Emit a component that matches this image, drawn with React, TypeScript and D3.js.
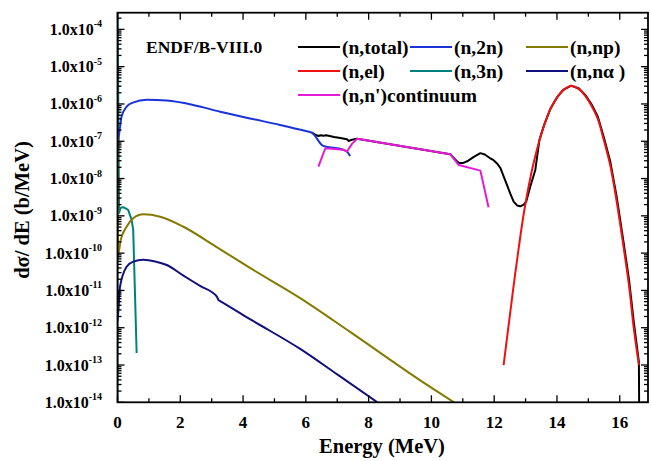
import React from "react";
import * as d3 from "d3";

// Energy grids (MeV) and spectra dσ/dE (b/MeV) for each reaction channel
const totalE = [6.19, 6.3, 6.4, 6.47, 6.56, 6.65, 6.9, 7.1, 7.31, 7.36, 7.42, 7.47, 7.63, 10.6, 10.75, 10.87, 11.0, 11.14, 11.35, 11.56, 11.7, 11.85, 11.98, 12.1, 12.2, 12.36, 12.52, 12.62, 12.73, 12.83, 12.94, 13.02, 13.15, 13.31, 13.44, 13.6, 13.8, 14.0, 14.2, 14.45, 14.7, 14.9, 15.1, 15.3, 15.49, 15.7, 15.9, 16.12, 16.3, 16.44, 16.61, 16.63];
const totalV = [1.71e-7, 1.5e-7, 1.38e-7, 1.45e-7, 1.4e-7, 1.44e-7, 1.3e-7, 1.22e-7, 1.13e-7, 1.02e-7, 1.06e-7, 1.1e-7, 1.16e-7, 4.5e-8, 3.3e-8, 2.6e-8, 2.6e-8, 2.9e-8, 3.8e-8, 4.8e-8, 4.4e-8, 3.6e-8, 3.1e-8, 2.5e-8, 1.9e-8, 8.5e-9, 3.8e-9, 2.4e-9, 1.9e-9, 1.8e-9, 2.0e-9, 2.4e-9, 6.1e-9, 1.7e-8, 1.08e-7, 2.9e-7, 7.7e-7, 1.5e-6, 2.38e-6, 3.1e-6, 2.6e-6, 1.75e-6, 9.8e-7, 4.6e-7, 1.3e-7, 2.8e-8, 3.3e-9, 2.0e-10, 1.8e-11, 1.6e-12, 1.2e-13, 1e-16];

const n2nE = [0.02, 0.08, 0.13, 0.29, 0.49, 0.93, 1.57, 2.41, 3.27, 4.22, 5.18, 6.0, 6.19, 6.55, 7.19, 7.31, 7.41];
const n2nV = [1.0e-7, 2.4e-7, 4.6e-7, 8.5e-7, 1.09e-6, 1.29e-6, 1.23e-6, 9.4e-7, 6.2e-7, 4.1e-7, 2.74e-7, 1.88e-7, 1.71e-7, 7.5e-8, 5.9e-8, 5.3e-8, 4.0e-8];

const npE = [0, 0.02, 0.1, 0.29, 0.5, 0.82, 1.36, 2.1, 3.16, 4.22, 5.82, 7.41, 9.62, 10.72];
const npV = [1.5e-7, 9e-11, 2.2e-10, 5.1e-10, 8.6e-10, 1.1e-9, 9.5e-10, 5.1e-10, 1.45e-10, 4.0e-11, 6.2e-12, 7.7e-13, 4.0e-14, 1.0e-14];

const elE = [12.3, 12.45, 12.6, 12.75, 12.94, 13.1, 13.25, 13.44, 13.6, 13.8, 14.0, 14.2, 14.45, 14.7, 14.9, 15.1, 15.3, 15.49, 15.7, 15.9, 16.12, 16.3, 16.44, 16.61];
const elV = [1.0e-13, 1.0e-12, 1.0e-11, 8.9e-11, 1.12e-9, 6.3e-9, 2.5e-8, 1.05e-7, 2.8e-7, 7.6e-7, 1.48e-6, 2.35e-6, 3.05e-6, 2.5e-6, 1.65e-6, 8.9e-7, 4.0e-7, 1.1e-7, 2.2e-8, 2.5e-9, 1.5e-10, 1.26e-11, 1.07e-12, 1.0e-13];

const n3nE = [0, 0, 0.05, 0.1, 0.185, 0.34, 0.45, 0.5, 0.61];
const n3nV = [1e-16, 1e-3, 1.2e-9, 1.65e-9, 1.7e-9, 1.44e-9, 7.8e-10, 4.2e-10, 2.1e-13];

const naE = [0, 0.03, 0.08, 0.29, 0.5, 0.82, 1.2, 1.57, 2.1, 2.63, 3.16, 3.22, 3.27, 4.22, 5.82, 7.0, 8.28];
const naV = [1.5e-12, 3e-12, 1.26e-11, 4.3e-11, 5.9e-11, 6.6e-11, 6.0e-11, 4.8e-11, 2.5e-11, 1.32e-11, 6.9e-12, 5.5e-12, 5.2e-12, 1.7e-12, 2.7e-13, 5.6e-14, 1.0e-14];

const contE = [6.4, 6.62, 7.2, 7.31, 7.47, 7.63, 10.6, 10.87, 11.56, 11.82];
const contV = [2.1e-8, 6.5e-8, 5.9e-8, 5.3e-8, 8.5e-8, 1.16e-7, 4.5e-8, 2.3e-8, 1.63e-8, 1.7e-9];

const xTicks = [0, 2, 4, 6, 8, 10, 12, 14, 16];
const yExponents = [-14, -13, -12, -11, -10, -9, -8, -7, -6, -5, -4];

const legendRows = [
  [
    { label: "(n,total)", color: "#000000" },
    { label: "(n,2n)", color: "#1a33d9" },
    { label: "(n,np)", color: "#857a00" },
  ],
  [
    { label: "(n,el)", color: "#f01010" },
    { label: "(n,3n)", color: "#008080" },
    { label: "(n,nα )", color: "#101080" },
  ],
  [{ label: "(n,n')continuum", color: "#e619d9" }],
];

const W = 651;
const H = 461;
const plot = { left: 117.5, right: 648, top: 12.7, bottom: 402.3 };
const FONT = "Liberation Serif";

export default function App() {
  const x = d3.scaleLinear().domain([0, 16.9]).range([plot.left, plot.right]);
  const y = d3.scaleLog().domain([1e-14, 2.8e-4]).range([plot.bottom, plot.top]);

  const mk = (curve: d3.CurveFactory) =>
    d3
      .line<[number, number]>()
      .x((d) => x(d[0]))
      .y((d) => y(d[1]))
      .curve(curve);

  const zip = (e: number[], v: number[]) => e.map((ei, i) => [ei, v[i]] as [number, number]);

  const series = [
    { data: zip(n3nE, n3nV), color: "#008080", curve: d3.curveLinear },
    { data: zip(totalE, totalV), color: "#000000", curve: d3.curveLinear },
    { data: zip(n2nE, n2nV), color: "#1a33d9", curve: d3.curveMonotoneX },
    { data: zip(npE, npV), color: "#857a00", curve: d3.curveMonotoneX },
    { data: zip(elE, elV), color: "#f01010", curve: d3.curveCatmullRom },
    { data: zip(naE, naV), color: "#101080", curve: d3.curveMonotoneX },
    { data: zip(contE, contV), color: "#e619d9", curve: d3.curveLinear },
  ];

  // minor ticks
  const xMinor = d3.range(1, 17, 2);
  const yMinor: number[] = [];
  for (let e = -14; e <= -4; e++) {
    for (let m = 2; m <= 9; m++) {
      const v = m * Math.pow(10, e);
      if (v <= 2.8e-4) yMinor.push(v);
    }
  }

  const major = 7;
  const minor = 4;

  const legendX = [298, 410, 526];
  const legendY = [47, 71, 95];

  return (
    <svg
      width={W}
      height={H}
      style={{ position: "absolute", left: 0, top: 0, fontFamily: FONT }}
    >
      <rect x={0} y={0} width={W} height={H} fill="#ffffff" />
      <defs>
        <clipPath id="plotClip">
          <rect x={plot.left} y={plot.top} width={plot.right - plot.left} height={plot.bottom - plot.top} />
        </clipPath>
      </defs>

      <g clipPath="url(#plotClip)" fill="none" strokeWidth={2} strokeLinejoin="round">
        {series.map((s, i) => (
          <path key={i} d={mk(s.curve)(s.data) || ""} stroke={s.color} />
        ))}
      </g>

      {/* ticks */}
      <g stroke="#000" strokeWidth={1.3}>
        {xTicks.map((t) => (
          <g key={"xt" + t}>
            <line x1={x(t)} x2={x(t)} y1={plot.bottom} y2={plot.bottom - major} />
            <line x1={x(t)} x2={x(t)} y1={plot.top} y2={plot.top + major} />
          </g>
        ))}
        {xMinor.map((t) => (
          <g key={"xm" + t}>
            <line x1={x(t)} x2={x(t)} y1={plot.bottom} y2={plot.bottom - minor} />
            <line x1={x(t)} x2={x(t)} y1={plot.top} y2={plot.top + minor} />
          </g>
        ))}
        {yExponents.map((e) => {
          const yy = y(Math.pow(10, e));
          return (
            <g key={"yt" + e}>
              <line x1={plot.left} x2={plot.left + major} y1={yy} y2={yy} />
              <line x1={plot.right} x2={plot.right - major} y1={yy} y2={yy} />
            </g>
          );
        })}
        {yMinor.map((v, i) => (
          <g key={"ym" + i}>
            <line x1={plot.left} x2={plot.left + minor} y1={y(v)} y2={y(v)} />
            <line x1={plot.right} x2={plot.right - minor} y1={y(v)} y2={y(v)} />
          </g>
        ))}
      </g>

      {/* frame */}
      <rect
        x={plot.left}
        y={plot.top}
        width={plot.right - plot.left}
        height={plot.bottom - plot.top}
        fill="none"
        stroke="#000"
        strokeWidth={1.8}
      />

      {/* x tick labels */}
      {xTicks.map((t) => (
        <text key={"xl" + t} x={x(t)} y={428} textAnchor="middle" fontSize={17} fontWeight="bold">
          {t}
        </text>
      ))}

      {/* y tick labels */}
      {yExponents.map((e) => (
        <text key={"yl" + e} x={102} y={y(Math.pow(10, e)) + 5.5} textAnchor="end" fontSize={16} fontWeight="bold">
          1.0x10
          <tspan dy={-7.5} fontSize={10}>
            {String(e)}
          </tspan>
        </text>
      ))}

      {/* axis titles */}
      <text x={382} y={453} textAnchor="middle" fontSize={20.5} fontWeight="bold">
        Energy (MeV)
      </text>
      <text
        transform={`translate(29, 210) rotate(-90)`}
        textAnchor="middle"
        fontSize={20.5}
        fontWeight="bold"
      >
        dσ/ dE (b/MeV)
      </text>

      {/* library label */}
      <text x={146} y={53} fontSize={17.5} fontWeight="bold">
        ENDF/B-VIII.0
      </text>

      {/* legend */}
      {legendRows.map((row, r) =>
        row.map((item, c) => (
          <g key={`lg${r}-${c}`}>
            <line
              x1={legendX[c]}
              x2={legendX[c] + 42}
              y1={legendY[r]}
              y2={legendY[r]}
              stroke={item.color}
              strokeWidth={2}
            />
            <text x={legendX[c] + 44} y={legendY[r] + 6.5} fontSize={19.5} fontWeight="bold">
              {item.label}
            </text>
          </g>
        ))
      )}
    </svg>
  );
}
